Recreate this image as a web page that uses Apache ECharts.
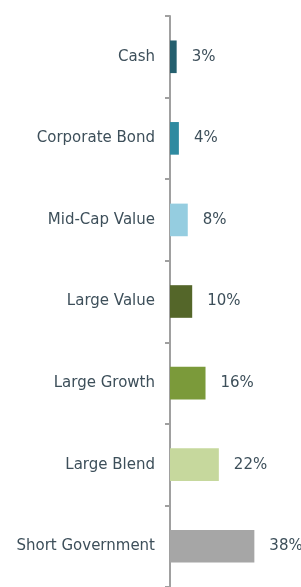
<!DOCTYPE html>
<html>
<head>
<meta charset="utf-8">
<script src="https://cdn.jsdelivr.net/npm/echarts@6/dist/echarts.min.js"></script>
<style>
html,body{margin:0;padding:0;background:#fff;}
#chart{width:301px;height:587px;}
</style>
</head>
<body>
<div id="chart"></div>
<script>
var categories = ['Cash', 'Corporate Bond', 'Mid-Cap Value', 'Large Value', 'Large Growth', 'Large Blend', 'Short Government'];
var values = [3, 4, 8, 10, 16, 22, 38];
var colors = ['#245f6e', '#2f8aa0', '#95cde0', '#546629', '#7b9a3a', '#c6d89d', '#a6a6a6'];

var chart = echarts.init(document.getElementById('chart'), null, {renderer: 'canvas'});
var textColor = '#3d4f5a';
var font = 'DejaVu Sans';
chart.setOption({
  animation: false,
  grid: {left: 170, top: 16, width: 111, height: 576},
  xAxis: {
    type: 'value', min: 0, max: 50, show: false
  },
  yAxis: {
    type: 'category', data: categories, inverse: true,
    axisLine: {show: true, lineStyle: {color: '#a0a0a0', width: 2}},
    axisTick: {show: true, length: 5, lineStyle: {color: '#a0a0a0', width: 2}},
    axisLabel: {color: textColor, fontFamily: font, fontSize: 15, margin: 15},
    splitLine: {show: false}
  },
  series: [{
    type: 'bar',
    barWidth: '40%',
    data: values.map(function(v, i){ return {value: v, itemStyle: {color: colors[i]}}; }),
    label: {
      show: true, position: 'right', distance: 15,
      color: textColor, fontFamily: font, fontSize: 15,
      formatter: function(p){ return p.value + '%'; }
    }
  }]
});
</script>
</body>
</html>
